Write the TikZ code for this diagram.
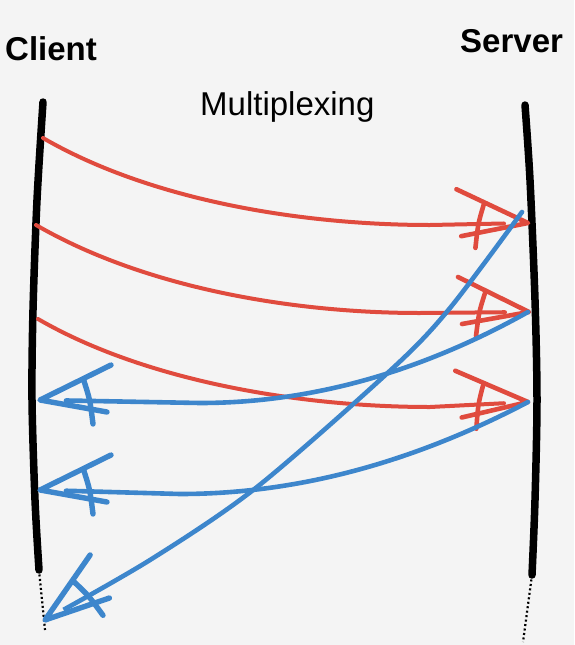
\documentclass[tikz,border=0pt]{standalone}
\usepackage{fontspec}
\setmainfont{Liberation Sans}
\definecolor{bg}{HTML}{F4F4F4}
\definecolor{sred}{HTML}{E04B3E}
\definecolor{sblue}{HTML}{3D86CC}
\begin{document}
\begin{tikzpicture}[x=1pt,y=-1pt,
  lifeline/.style={line width=7.5pt, line cap=round, line join=round},
  lifetail/.style={line width=2.2pt, dash pattern=on 2pt off 2.5pt},
  reqarrow/.style={draw=sred, line width=4pt, line cap=round, shorten >=24pt},
  resarrow/.style={draw=sblue, line width=4.6pt, line cap=round, shorten >=26pt},
  reqhead/.style={color=sred, line width=4.6pt},
  reshead/.style={color=sblue, line width=5.4pt},
  sketchhead/.pic={
    \draw[line cap=round, line join=round] (-71,-35) -- (0,0) -- (-67,12);
    \draw[line cap=round] (-44,-19) .. controls (-50,0) .. (-53,24);
  },
  title/.style={inner sep=0pt, anchor=base west, font=\fontsize{33}{40}\selectfont}
]
\fill[bg] (0,0) rectangle (574,645);
\useasboundingbox (0,0) rectangle (574,645);

% titles
\node[title, font=\fontsize{33}{40}\selectfont\bfseries] (client) at (5,60) {Client};
\node[title, font=\fontsize{33}{40}\selectfont\bfseries] (server) at (460,52) {Server};
\node[title] (mux) at (200,115) {Multiplexing};

% client lifeline
\coordinate (c0) at (43,102);
\coordinate (c1) at (37,200);
\coordinate (c2) at (33,310);
\coordinate (c3) at (32,400);
\coordinate (c4) at (35,500);
\coordinate (c5) at (39,570);
\coordinate (c6) at (45,630);
\draw[lifeline] plot[smooth] coordinates {(c0) (c1) (c2) (c3) (c4) (c5)};
\draw[lifetail] (c5) -- (c6);

% server lifeline
\coordinate (s0) at (525,105);
\coordinate (s1) at (530,180);
\coordinate (s2) at (535,300);
\coordinate (s3) at (537,400);
\coordinate (s4) at (535,500);
\coordinate (s5) at (532,575);
\coordinate (s6) at (523,642);
\draw[lifeline] plot[smooth] coordinates {(s0) (s1) (s2) (s3) (s4) (s5)};
\draw[lifetail] (s5) -- (s6);

% request endpoints
\coordinate (r1s) at (43,138);
\coordinate (r1e) at (528,223);
\coordinate (r2s) at (36,225);
\coordinate (r2e) at (529,312);
\coordinate (r3s) at (38,319);
\coordinate (r3e) at (528,402);

% response endpoints
\coordinate (b1s) at (522,212);
\coordinate (b1e) at (45,620);
\coordinate (b2s) at (528,312);
\coordinate (b2e) at (40,400);
\coordinate (b3s) at (528,402);
\coordinate (b3e) at (40,490);

% requests (red)
\draw[reqarrow] (r1s) .. controls (150,200) and (300,225) .. (430,225) -- (r1e);
\draw[reqarrow] (r2s) .. controls (143,287) and (290,313) .. (420,313) -- (r2e);
\draw[reqarrow] (r3s) .. controls (145,381) and (300,407) .. (430,407) -- (r3e);
\pic[reqhead, rotate=1] at (r1e) {sketchhead};
\pic[reqhead] at (r2e) {sketchhead};
\pic[reqhead, rotate=3] at (r3e) {sketchhead};

% responses (blue)
\draw[resarrow] plot[smooth] coordinates {(b1s) (450,308) (393,368) (257,487) (150,560) (b1e)};
\draw[resarrow] (b2s) .. controls (419,373) and (309,403) .. (200,403) -- (b2e);
\draw[resarrow] (b3s) .. controls (412,463) and (296,494) .. (180,494) -- (b3e);
\pic[reshead, rotate=29, xscale=-1] at (b1e) {sketchhead};
\pic[reshead, xscale=-1] at (b2e) {sketchhead};
\pic[reshead, xscale=-1] at (b3e) {sketchhead};
\end{tikzpicture}
\end{document}
